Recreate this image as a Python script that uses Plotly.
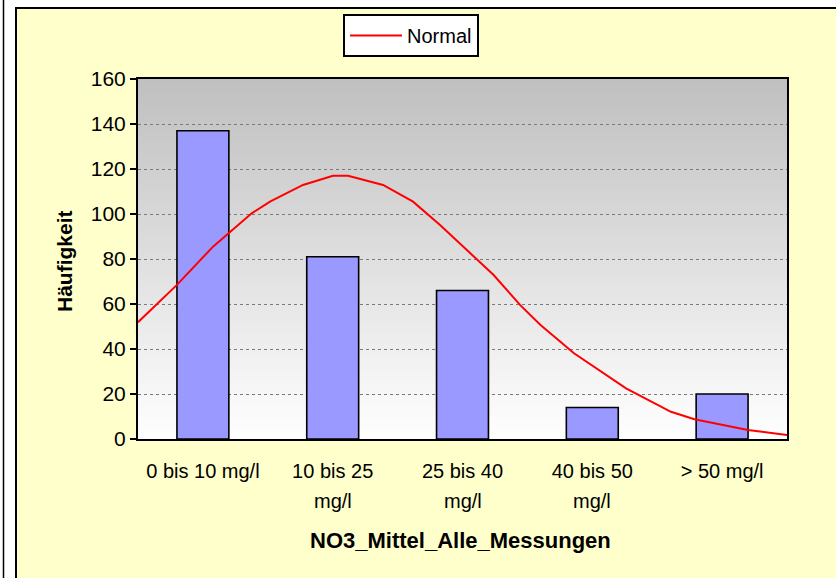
import plotly.graph_objects as go

# ---- data ----
cat_line1 = ["0 bis 10 mg/l", "10 bis 25", "25 bis 40", "40 bis 50", "> 50 mg/l"]
cat_line2 = ["", "mg/l", "mg/l", "mg/l", ""]
counts = [137, 81, 66, 14, 20]
bar_pos = [0.5, 1.5, 2.5, 3.5, 4.5]
boundary_ticks = [0, 1, 2, 3, 4, 5]

normal_x = [0.0, 0.298, 0.578, 0.876, 1.017, 1.271, 1.502, 1.618, 1.888, 2.119, 2.327,
            2.585, 2.740, 2.943, 3.101, 3.359, 3.513, 3.760, 4.106, 4.287, 4.699, 5.0]
normal_y = [51.9, 68.4, 85.5, 100.3, 105.5, 112.9, 117.0, 117.0, 112.9, 105.5, 95.1,
            81.0, 72.9, 59.6, 50.7, 38.1, 32.1, 22.5, 12.1, 8.8, 4.0, 1.8]

y_ticks = [0, 20, 40, 60, 80, 100, 120, 140, 160]

FONT = "Arial, Liberation Sans, sans-serif"

fig = go.Figure()
fig.add_trace(go.Bar(
    x=bar_pos, y=counts, width=0.4, showlegend=False,
    marker=dict(color="#9999FF", line=dict(color="black", width=1.6)),
    hoverinfo="y"))
fig.add_trace(go.Scatter(
    x=normal_x, y=normal_y, mode="lines", name="Normal",
    line=dict(color="#FF0000", width=2)))

# plot-area gradient (grey at top -> white at bottom)
N = 60
shapes = []
for i in range(N):
    t = (i + 0.5) / N  # 0 bottom -> 1 top
    g = int(round(255 - (255 - 191) * t))
    shapes.append(dict(type="rect", xref="x domain", yref="y domain",
                       x0=0, x1=1, y0=i / N, y1=(i + 1) / N,
                       fillcolor=f"rgb({g},{g},{g})", line=dict(width=0), layer="below"))

# pixel -> paper helpers (plot area: x 138..787, y 79..439)
def px(x):
    return (x - 138) / 649.0

def py(y):
    return (439 - y) / 360.0

# yellow chart area with black border
shapes.insert(0, dict(type="rect", xref="paper", yref="paper",
                      x0=px(16), x1=px(900), y0=py(700), y1=py(8),
                      fillcolor="#FFFFCC", line=dict(color="black", width=2), layer="below"))
# outer left frame line
shapes.insert(0, dict(type="line", xref="paper", yref="paper",
                      x0=px(3.5), x1=px(3.5), y0=py(700), y1=py(-10),
                      line=dict(color="black", width=1.5), layer="below"))

annotations = [
    dict(text="<b>NO3_Mittel_Alle_Messungen</b>", xref="paper", yref="paper",
         x=px(460), y=py(540), xanchor="center", yanchor="middle",
         showarrow=False, font=dict(size=22, family=FONT)),
    dict(text="<b>Häufigkeit</b>", xref="paper", yref="paper",
         x=px(64), y=py(261), xanchor="center", yanchor="middle", textangle=-90,
         showarrow=False, font=dict(size=21, family=FONT)),
]
for xp, t2 in zip(bar_pos, cat_line2):
    if t2:
        annotations.append(dict(text=t2, xref="x", yref="paper", x=xp, y=py(501),
                                xanchor="center", yanchor="middle", showarrow=False,
                                font=dict(size=20, family=FONT)))

fig.update_layout(
    width=836, height=578,
    margin=dict(l=138, r=49, t=79, b=139),
    paper_bgcolor="white", plot_bgcolor="white",
    font=dict(family=FONT, size=20, color="black"),
    shapes=shapes,
    bargap=0.6,
    showlegend=True,
    legend=dict(x=px(343), y=py(14), xanchor="left", yanchor="top",
                bgcolor="white", bordercolor="black", borderwidth=2,
                font=dict(size=20, family=FONT), itemwidth=52),
    xaxis=dict(range=[0, 5], tickvals=bar_pos, ticktext=cat_line1,
               ticks="", showgrid=False, zeroline=False,
               showline=True, linecolor="black", linewidth=2, mirror=True,
               tickfont=dict(size=20), ticklabelstandoff=13),
    xaxis2=dict(range=[0, 5], overlaying="x", anchor="y", side="bottom",
                tickvals=boundary_ticks, ticks="outside", ticklen=7, tickwidth=2,
                tickcolor="black", showticklabels=False, showgrid=False,
                zeroline=False, showline=False),
    yaxis=dict(range=[0, 160], tickvals=y_ticks, ticks="outside", ticklen=6,
               tickwidth=2, tickcolor="black", showline=True, linecolor="black",
               linewidth=2, mirror=True, showgrid=True, gridcolor="#7a7a7a",
               griddash="dot", gridwidth=1, zeroline=False,
               tickfont=dict(size=21)),
    annotations=annotations,
)

fig.write_html("out.html", config={"displayModeBar": False},
               post_script="document.body.style.margin='0';")
